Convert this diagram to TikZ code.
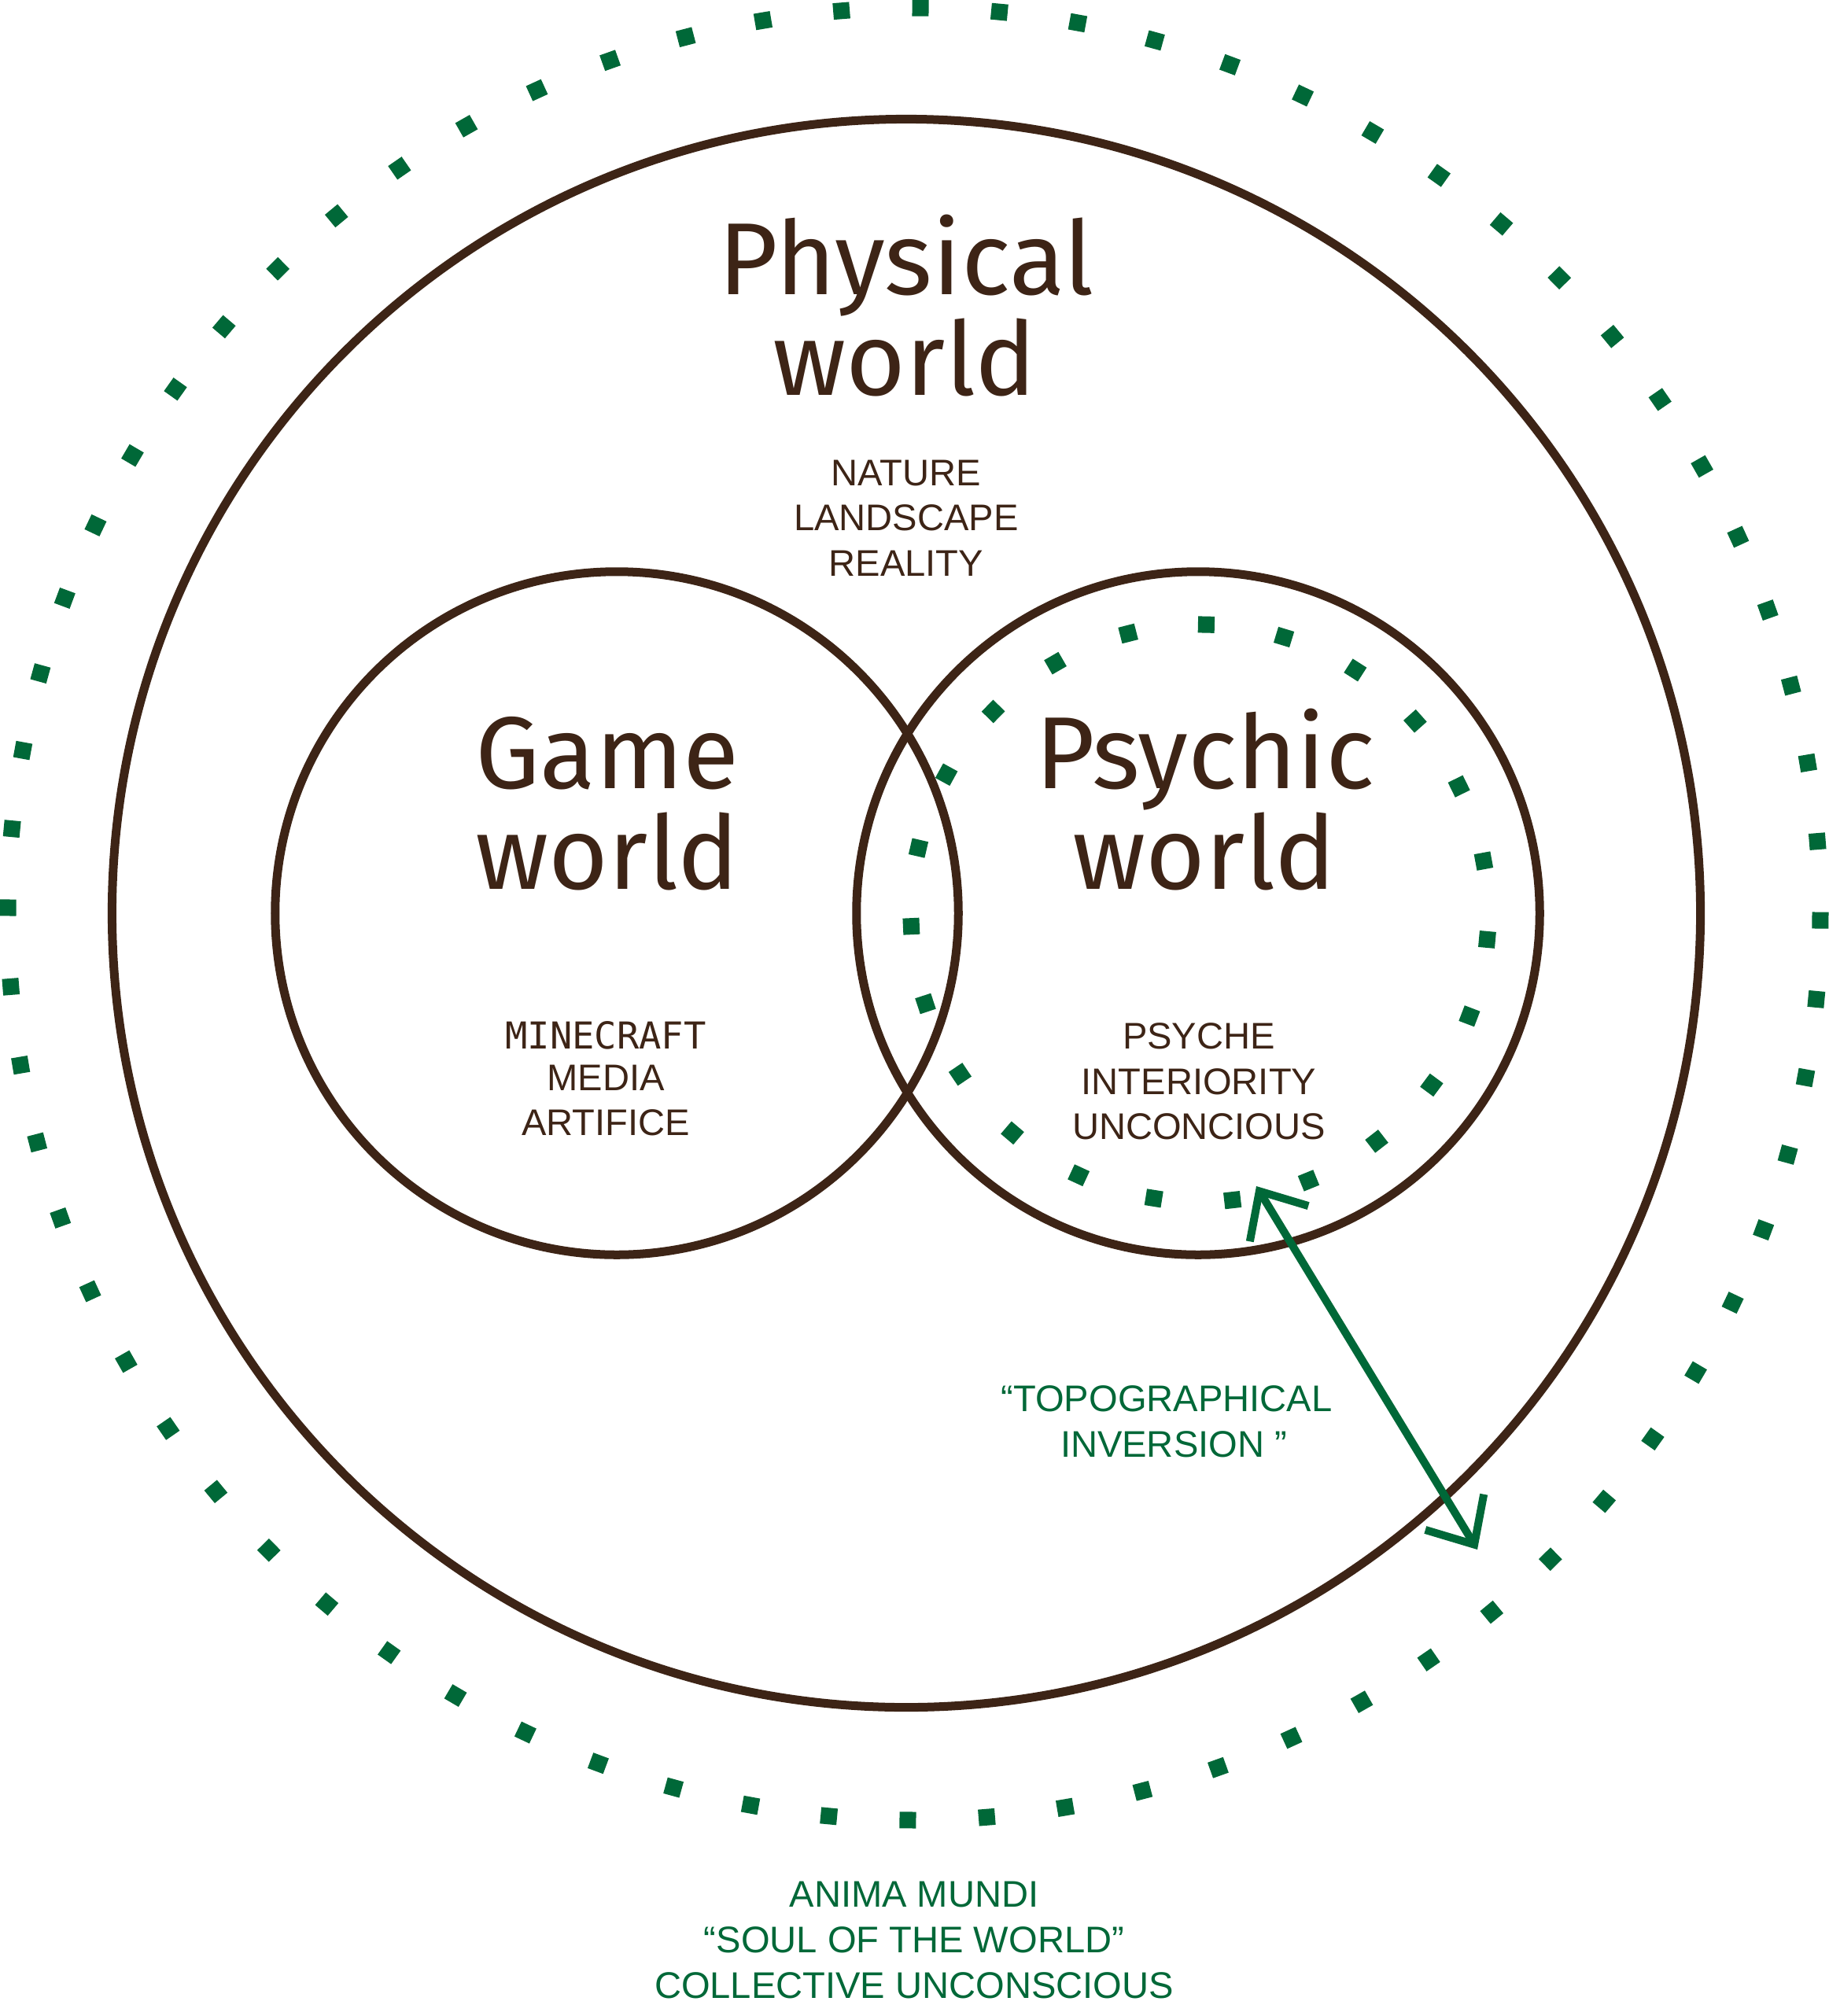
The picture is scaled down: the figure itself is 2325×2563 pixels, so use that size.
\documentclass[tikz,border=0pt]{standalone}
\usepackage{fontspec}
\setmainfont{Fira Sans}
\newfontfamily\labfont{Liberation Sans}
\newfontfamily\pixelfont{DejaVu Sans Mono}
\usetikzlibrary{arrows.meta}
\definecolor{brn}{RGB}{61,36,22}
\definecolor{grn}{RGB}{0,104,56}
\tikzset{barbtip/.tip={Straight Barb[angle=84:0.65cm, sharp]}}
\begin{document}
\begin{tikzpicture}[x=0.01cm,y=-0.01cm,
  ring/.style={draw=brn, line width=0.11cm},
  title/.style={text=brn, font=\fontsize{37}{36}\selectfont, anchor=base, inner sep=0pt},
  lab/.style={text=brn, font=\labfont\fontsize{13.4}{16}\selectfont, anchor=base, inner sep=0pt},
  glab/.style={lab, text=grn},
  gdot/.style={fill=grn},
  inv/.style={draw=grn, line width=0.1cm, {barbtip}-{barbtip}}]
\useasboundingbox (0,0) rectangle (2325,2563);
\fill[white] (0,0) rectangle (2325,2563);

% outer dotted circle (anima mundi)
\foreach \a in {0,5,...,355} {
  \fill[gdot, shift={(1162,1162)}, rotate=\a-0.4] (1141.5,-10.5) rectangle (1162.5,10.5);
}

% circles
\draw[ring] (1152,1161) circle[radius=10.09cm];
\draw[ring] (784,1161) circle[radius=4.34cm];
\draw[ring] (1523,1161) circle[radius=4.34cm];

% inner dotted circle
\foreach \k in {0,...,22} {
  \fill[gdot, shift={(1525,1161)}, rotate={-177.4-\k*15.652}] (356.5,-10.5) rectangle (377.5,10.5);
}

% titles
\node[title] (phys1) at (1152,374) {Physical};
\node[title] (phys2) at (1150,502) {world};
\node[title] (game1) at (772,1002) {Game};
\node[title] (game2) at (772,1130) {world};
\node[title] (psy1) at (1532,1002) {Psychic};
\node[title] (psy2) at (1531,1130) {world};

% labels
\node[lab] (nat1) at (1152,617) {NATURE};
\node[lab] (nat2) at (1152,674) {LANDSCAPE};
\node[lab] (nat3) at (1152,732) {REALITY};
\node[lab] (gm1) at (770,1333) {\pixelfont MINECRAFT};
\node[lab] (gm2) at (770,1386) {MEDIA};
\node[lab] (gm3) at (770,1443) {ARTIFICE};
\node[lab] (ps1) at (1524,1333) {PSYCHE};
\node[lab] (ps2) at (1524,1391) {INTERIORITY};
\node[lab] (ps3) at (1524,1448) {UNCONCIOUS};
\node[glab] (top1) at (1483,1794) {“TOPOGRAPHICAL};
\node[glab] (top2) at (1492,1852) {INVERSION ”};
\node[glab] (an1) at (1162,2424) {ANIMA MUNDI};
\node[glab] (an2) at (1162,2482) {“SOUL OF THE WORLD”};
\node[glab] (an3) at (1162,2540) {COLLECTIVE UNCONSCIOUS};

% topographical inversion arrow
\coordinate (invA) at (1597,1508);
\coordinate (invB) at (1878,1970);
\draw[inv] (invA) -- (invB);
\end{tikzpicture}
\end{document}
